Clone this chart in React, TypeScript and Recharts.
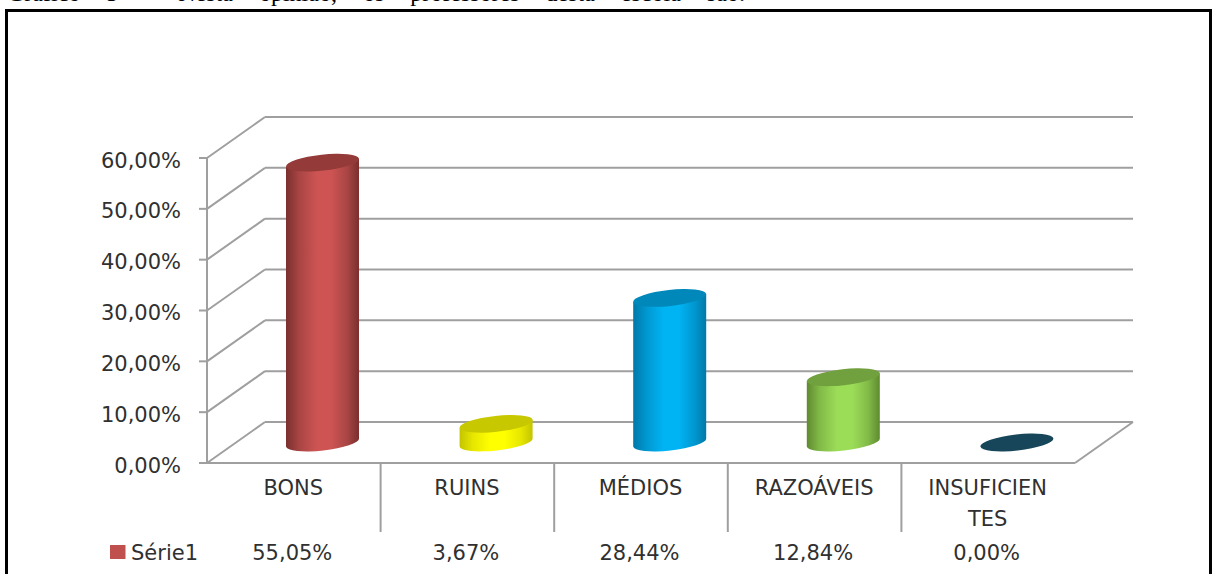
import React from "react";
import { BarChart, Bar, XAxis, YAxis, CartesianGrid } from "recharts";

const categories = ["BONS", "RUINS", "MÉDIOS", "RAZOÁVEIS", "INSUFICIEN\nTES"];
const values = [55.05, 3.67, 28.44, 12.84, 0];
const valueLabels = ["55,05%", "3,67%", "28,44%", "12,84%", "0,00%"];
const yTicks = [0, 10, 20, 30, 40, 50, 60];
const seriesName = "Série1";
const headerText = "Gráfico 5 - Nesta opinião, os professores desta escola são:";

const edgeColors = ["#7a2f2e", "#c4c400", "#0079a8", "#5f8a30", "#17465a"];
const shadeColors = ["#a84544", "#e6e600", "#0097d0", "#82bb48", "#17465a"];
const midColors = ["#cd5453", "#ffff00", "#00b4f4", "#9cdd58", "#17465a"];
const topColors = ["#943a39", "#c8c800", "#0088ba", "#71a03e", "#17465a"];
const legendColor = "#c0504d";

const W = 1216, H = 574;
const M = { top: 158, right: 141, bottom: 111, left: 207 };
const DX = 58, DY = 41;
const FONT = "'DejaVu Sans', sans-serif";
const GRID = "#9f9f9f";
const TEXT = "#303030";
const FS = 21;
const BAND = (W - M.left - M.right) / categories.length;
const data = categories.map((c, i) => ({ name: c, value: values[i], index: i }));
const fmt = (v: number) => v.toFixed(2).replace(".", ",") + "%";

function GridLine(props: any) {
  const { x1, x2, y1 } = props;
  const isBottom = Math.abs(y1 - (H - M.bottom)) < 1;
  return (
    <g>
      <line x1={x1} x2={x1 + DX} y1={y1} y2={y1 - DY} stroke={GRID} strokeWidth={2} />
      <line x1={x1 + DX} x2={x2 + DX} y1={y1 - DY} y2={y1 - DY} stroke={GRID} strokeWidth={2} />
      {isBottom && <line x1={x2} x2={x2 + DX} y1={y1} y2={y1 - DY} stroke={GRID} strokeWidth={2} />}
    </g>
  );
}

function YTick({ y, payload }: any) {
  return (
    <text x={M.left - 26} y={y + 9.5} textAnchor="end" fontFamily={FONT} fontSize={FS} fill={TEXT}>
      {fmt(payload.value)}
    </text>
  );
}

function XTick({ x, payload, index }: any) {
  const lines = String(payload.value).split("\n");
  const axisY = H - M.bottom;
  return (
    <g>
      {index < categories.length - 1 && (
        <line x1={x + BAND / 2} x2={x + BAND / 2} y1={axisY} y2={532} stroke={GRID} strokeWidth={2} />
      )}
      {lines.map((l, i) => (
        <text key={i} x={x - 0.5} y={axisY + 32 + i * 30.5} textAnchor="middle" fontFamily={FONT} fontSize={FS} fill={TEXT}>
          {l}
        </text>
      ))}
      <text x={x - 1.5} y={560} textAnchor="middle" fontFamily={FONT} fontSize={FS} fill={TEXT}>
        {valueLabels[index]}
      </text>
      {index === 0 && (
        <g>
          <rect x={110} y={545} width={15.5} height={14} fill={legendColor} />
          <text x={131} y={560} fontFamily={FONT} fontSize={FS} fill={TEXT}>
            {seriesName}
          </text>
        </g>
      )}
    </g>
  );
}

function Cylinder({ x, y, width, height, index }: any) {
  const cx = x + width / 2 + DX / 2;
  const baseY = y + height - DY / 2;
  const topY = y - DY / 2;
  const hw = width / 2;
  const tilt = 4;
  const rx = Math.sqrt(hw * hw + tilt * tilt);
  const ry = 8;
  const rot = (-Math.atan2(tilt, hw) * 180) / Math.PI;
  const id = `cyl-${index}`;
  const ellipseTop = (
    <ellipse cx={cx} cy={topY} rx={rx} ry={ry} transform={`rotate(${rot} ${cx} ${topY})`} fill={topColors[index]} />
  );
  if (height < 0.5) return ellipseTop;
  const body =
    `M ${cx - hw} ${topY + tilt} L ${cx - hw} ${baseY + tilt} ` +
    `A ${rx} ${ry} ${rot} 0 0 ${cx + hw} ${baseY - tilt} ` +
    `L ${cx + hw} ${topY - tilt} Z`;
  return (
    <g>
      <defs>
        <linearGradient id={id} x1="0" y1="0" x2="1" y2="0">
          <stop offset="0%" stopColor={edgeColors[index]} />
          <stop offset="18%" stopColor={shadeColors[index]} />
          <stop offset="42%" stopColor={midColors[index]} />
          <stop offset="62%" stopColor={midColors[index]} />
          <stop offset="84%" stopColor={shadeColors[index]} />
          <stop offset="100%" stopColor={edgeColors[index]} />
        </linearGradient>
      </defs>
      <path d={body} fill={`url(#${id})`} />
      {ellipseTop}
    </g>
  );
}

export default function App() {
  const axisStyle = { stroke: GRID, strokeWidth: 2 };
  return (
    <div style={{ position: "absolute", left: 0, top: 0, width: W, height: H, overflow: "hidden", background: "#fff" }}>
      <div
        style={{
          position: "absolute", left: 7, top: -20, whiteSpace: "nowrap", wordSpacing: 20,
          fontFamily: "'Liberation Serif', serif", fontSize: 24, color: "#000",
        }}
      >
        {headerText}
      </div>
      <div
        style={{
          position: "absolute", left: 5, top: 9, width: 1201, height: 600,
          border: "3px solid #000", boxSizing: "content-box",
        }}
      />
      <div style={{ position: "absolute", left: 0, top: 0 }}>
        <BarChart width={W} height={H} data={data} margin={{ top: M.top, right: M.right, bottom: 0, left: 0 }} barSize={73}>
          <CartesianGrid vertical={false} horizontal={(p: any) => <GridLine key={p.key ?? p.index} {...p} />} />
          <YAxis
            type="number"
            width={M.left}
            domain={[0, 60]}
            ticks={yTicks}
            interval={0}
            axisLine={axisStyle}
            tickLine={axisStyle}
            tickSize={8}
            tick={<YTick />}
          />
          <XAxis
            dataKey="name"
            height={M.bottom}
            interval={0}
            axisLine={axisStyle}
            tickLine={false}
            tick={<XTick />}
          />
          <Bar dataKey="value" name={seriesName} isAnimationActive={false} shape={<Cylinder />} />
        </BarChart>
      </div>
    </div>
  );
}
